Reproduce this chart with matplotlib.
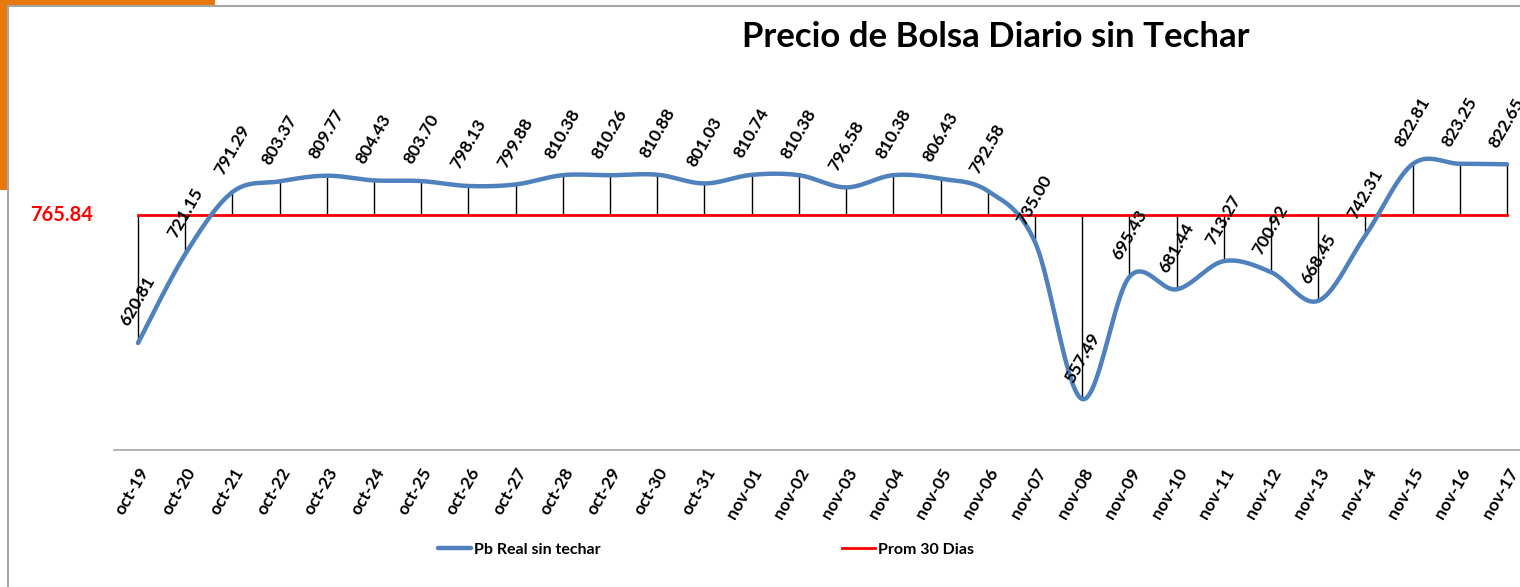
import numpy as np
import matplotlib
matplotlib.use("Agg")
import matplotlib.pyplot as plt
from matplotlib.patches import Ellipse, Rectangle

plt.rcParams["font.family"] = ["Lato", "DejaVu Sans"]

fechas = ["oct-19", "oct-20", "oct-21", "oct-22", "oct-23", "oct-24", "oct-25", "oct-26",
          "oct-27", "oct-28", "oct-29", "oct-30", "oct-31", "nov-01", "nov-02", "nov-03",
          "nov-04", "nov-05", "nov-06", "nov-07", "nov-08", "nov-09", "nov-10", "nov-11",
          "nov-12", "nov-13", "nov-14", "nov-15", "nov-16", "nov-17"]
pb_real = [620.81, 721.15, 791.29, 803.37, 809.77, 804.43, 803.70, 798.13, 799.88, 810.38,
           810.26, 810.88, 801.03, 810.74, 810.38, 796.58, 810.38, 806.43, 792.58, 735.00,
           557.49, 695.43, 681.44, 713.27, 700.92, 668.45, 742.31, 822.81, 823.25, 822.65]
prom_30 = 765.84

W, H = 1520, 587
fig = plt.figure(figsize=(W / 100, H / 100), dpi=100)


def fx(px):
    return px / W


def fy(py):
    return 1 - py / H


# slide decoration and chart frame
fig.patches.append(Ellipse((0, 1), 2 * fx(215), 2 * (1 - fy(190)), transform=fig.transFigure,
                           facecolor="#E8770C", edgecolor="none", zorder=0))
fig.patches.append(Rectangle((fx(8), fy(600)), fx(1600), fy(6) - fy(600), transform=fig.transFigure,
                             facecolor="white", edgecolor="#A6A6A6", linewidth=1.5, zorder=1))

ax = fig.add_axes([fx(114.4), fy(450), fx(1530.6) - fx(114.4), fy(95.8) - fy(450)])
ax.set_zorder(2)
ax.patch.set_visible(False)

x = np.arange(len(pb_real))
y = np.array(pb_real)

# Excel-style smoothed line (Catmull-Rom Bezier)
xs, ys = [], []
pts = np.column_stack([x, y]).astype(float)
n = len(pts)
t = np.linspace(0, 1, 25)
for i in range(n - 1):
    p0 = pts[max(i - 1, 0)]
    p1 = pts[i]
    p2 = pts[i + 1]
    p3 = pts[min(i + 2, n - 1)]
    c1 = p1 + (p2 - p0) / 6
    c2 = p2 - (p3 - p1) / 6
    seg = ((1 - t) ** 3)[:, None] * p1 + (3 * (1 - t) ** 2 * t)[:, None] * c1 \
        + (3 * (1 - t) * t ** 2)[:, None] * c2 + (t ** 3)[:, None] * p2
    xs.extend(seg[:, 0])
    ys.extend(seg[:, 1])

prom = np.full(n, prom_30)
ax.vlines(x, prom, y, color="black", linewidth=1.0, zorder=2)
ax.plot(x, prom, color="#FF0000", linewidth=2.0, zorder=3, label="Prom 30 Dias")
ax.plot(xs, ys, color="#4F81BD", linewidth=3.2, zorder=4, label="Pb Real sin techar",
        solid_capstyle="round")

for xi, yi in zip(x, y):
    ax.annotate(f"{yi:.2f}", (xi, yi), xytext=(0, 30), textcoords="offset points",
                ha="center", va="center", rotation=60, fontsize=12.5, fontweight="bold",
                color="black", zorder=5)

ax.set_xlim(-0.5, n - 0.5)
ax.set_ylim(500, 900)
ax.set_yticks([])
ax.set_xticks(x)
ax.set_xticklabels(fechas, rotation=60, ha="right", va="top", rotation_mode="anchor",
                   fontsize=12.5, fontweight="bold")
ax.tick_params(axis="x", length=0, pad=11)
for s in ["top", "right", "left"]:
    ax.spines[s].set_visible(False)
ax.spines["bottom"].set_color("#A6A6A6")
ax.spines["bottom"].set_linewidth(1.2)

fig.text(fx(93), fy(215), f"{prom_30:.2f}", color="#FF0000", fontsize=14.5, fontweight="bold",
         ha="right", va="center")
fig.text(fx(996), fy(37), "Precio de Bolsa Diario sin Techar", fontsize=25, fontweight="bold",
         ha="center", va="center")

handles, labels = ax.get_legend_handles_labels()
fig.legend(handles[::-1], labels[::-1], loc="center", bbox_to_anchor=(fx(706), fy(550)), ncol=2,
           frameon=False, handlelength=2.05, handletextpad=0.2, columnspacing=15.1,
           prop={"weight": "bold", "size": 11.5})

fig.savefig("out.png", dpi=100)
